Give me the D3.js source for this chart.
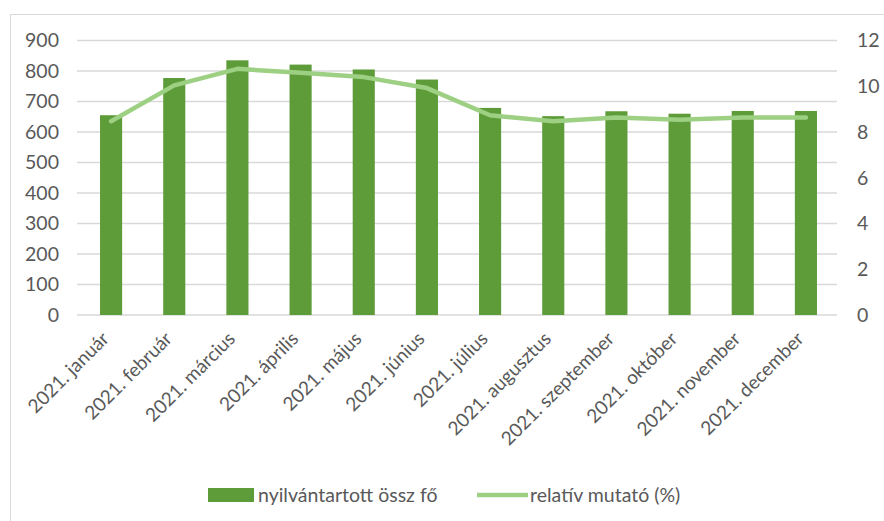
<!DOCTYPE html>
<html>
<head>
<meta charset="utf-8">
<script src="https://cdn.jsdelivr.net/npm/d3@7"></script>
<style>
  html, body { margin: 0; padding: 0; background: #fff; }
  svg { display: block; }
  text { font-family: Lato, "Open Sans", sans-serif; fill: #595959; }
</style>
</head>
<body>
<svg id="chart" width="884" height="521"></svg>
<script>
const categories = ["2021. január","2021. február","2021. március","2021. április","2021. május","2021. június","2021. július","2021. augusztus","2021. szeptember","2021. október","2021. november","2021. december"];
const barValues = [655, 777, 835, 821, 805, 772, 679, 652, 668, 660, 669, 669];
const lineValues = [8.47, 10.04, 10.76, 10.59, 10.4, 9.92, 8.73, 8.47, 8.63, 8.54, 8.63, 8.63];
const leftTicks = [0,100,200,300,400,500,600,700,800,900];
const rightTicks = [0,2,4,6,8,10,12];
const seriesNames = ["nyilvántartott össz fő", "relatív mutató (%)"];

const barColor = "#5d9c39";
const lineColor = "#9dd083";

const svg = d3.select("#chart");

// chart frame
svg.append("rect").attr("x", 10.5).attr("y", 14.5).attr("width", 900).attr("height", 600)
  .attr("fill", "none").attr("stroke", "#d9d9d9").attr("stroke-width", 1);

const x = d3.scaleBand().domain(categories).range([79.5, 837.5]).paddingInner(0.65).paddingOuter(0.325);
const yL = d3.scaleLinear().domain([0, 900]).range([315, 40.5]);
const yR = d3.scaleLinear().domain([0, 12]).range([315, 40.5]);

// gridlines
svg.append("g").selectAll("line").data(leftTicks).join("line")
  .attr("x1", 77).attr("x2", 837)
  .attr("y1", d => yL(d)).attr("y2", d => yL(d))
  .attr("stroke", "#d9d9d9").attr("stroke-width", 1.5);

// left axis
const axL = svg.append("g").attr("transform", "translate(59,0)")
  .call(d3.axisLeft(yL).tickValues(leftTicks).tickSize(0).tickPadding(0));
axL.select(".domain").remove();
axL.selectAll("text").attr("font-size", 19.5).attr("fill", "#5f5f5f").style("font-family", "Lato, sans-serif");

// right axis
const axR = svg.append("g").attr("transform", "translate(857,0)")
  .call(d3.axisRight(yR).tickValues(rightTicks).tickSize(0).tickPadding(0));
axR.select(".domain").remove();
axR.selectAll("text").attr("font-size", 19.5).attr("fill", "#5f5f5f").style("font-family", "Lato, sans-serif");

// bars
svg.append("g").selectAll("rect").data(categories).join("rect")
  .attr("x", d => x(d)).attr("width", x.bandwidth())
  .attr("y", (d, i) => yL(barValues[i])).attr("height", (d, i) => yL(0) - yL(barValues[i]))
  .attr("fill", barColor);

// line
const line = d3.line().x((d, i) => x(categories[i]) + x.bandwidth() / 2).y(d => yR(d));
svg.append("path").datum(lineValues).attr("d", line)
  .attr("fill", "none").attr("stroke", lineColor).attr("stroke-width", 4.5)
  .attr("stroke-linejoin", "round").attr("stroke-linecap", "round");

// x axis labels
const axX = svg.append("g").attr("transform", "translate(0,315)")
  .call(d3.axisBottom(x).tickSize(0).tickPadding(0));
axX.select(".domain").remove();
axX.selectAll("text")
  .attr("font-size", 19).attr("fill", "#5f5f5f").style("font-family", "Lato, sans-serif")
  .attr("text-anchor", "end")
  .attr("dy", 0).attr("y", 0)
  .attr("transform", "translate(-1,25) rotate(-45)");

// legend
const lg = svg.append("g");
lg.append("rect").attr("x", 208).attr("y", 488).attr("width", 46).attr("height", 14).attr("fill", barColor);
lg.append("text").attr("x", 258).attr("y", 495).attr("dy", "0.35em").attr("font-size", 19.5).text(seriesNames[0]);
lg.append("line").attr("x1", 477).attr("x2", 528).attr("y1", 495).attr("y2", 495)
  .attr("stroke", lineColor).attr("stroke-width", 4.5);
lg.append("text").attr("x", 530).attr("y", 495).attr("dy", "0.35em").attr("font-size", 19.5).text(seriesNames[1]);
</script>
</body>
</html>
